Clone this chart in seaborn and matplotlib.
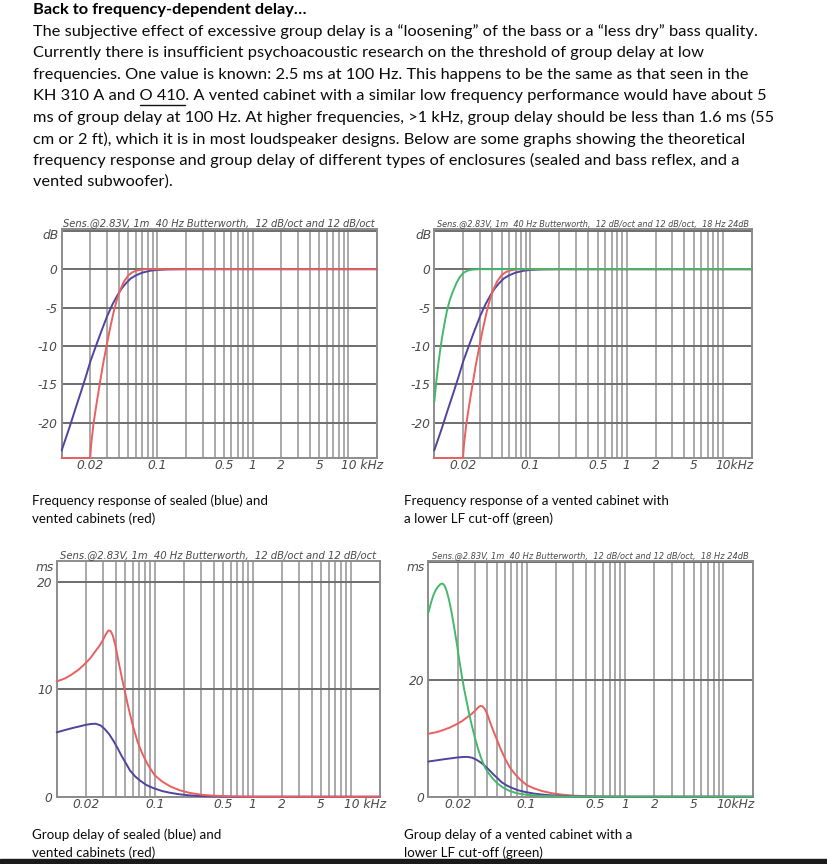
import matplotlib
matplotlib.use("Agg")
import matplotlib.pyplot as plt
import matplotlib.ticker as mticker
from matplotlib.patches import Rectangle
from matplotlib.lines import Line2D
from matplotlib.transforms import ScaledTranslation
import pandas as pd
import seaborn as sns

W, H = 827, 864

# ---------------- text ----------------
heading = "Back to frequency-dependent delay…"
paragraph = [
    "The subjective effect of excessive group delay is a “loosening” of the bass or a “less dry” bass quality.",
    "Currently there is insufficient psychoacoustic research on the threshold of group delay at low",
    "frequencies. One value is known: 2.5 ms at 100 Hz. This happens to be the same as that seen in the",
    "KH 310 A and O 410. A vented cabinet with a similar low frequency performance would have about 5",
    "ms of group delay at 100 Hz. At higher frequencies, >1 kHz, group delay should be less than 1.6 ms (55",
    "cm or 2 ft), which it is in most loudspeaker designs. Below are some graphs showing the theoretical",
    "frequency response and group delay of different types of enclosures (sealed and bass reflex, and a",
    "vented subwoofer).",
]
underlined_prefix = "KH 310 A and "
underlined_word = "O 410"

cap_fr_left = ["Frequency response of sealed (blue) and", "vented cabinets (red)"]
cap_fr_right = ["Frequency response of a vented cabinet with", "a lower LF cut-off (green)"]
cap_gd_left = ["Group delay of sealed (blue) and", "vented cabinets (red)"]
cap_gd_right = ["Group delay of a vented cabinet with a", "lower LF cut-off (green)"]

title_left = "Sens.@2.83V, 1m  40 Hz Butterworth,  12 dB/oct and 12 dB/oct"
title_right = "Sens.@2.83V, 1m  40 Hz Butterworth,  12 dB/oct and 12 dB/oct,  18 Hz 24dB"

# ---------------- axes ticks ----------------
xtick_vals = [20, 100, 500, 1000, 2000, 5000, 10000]
xtick_labels_left = ["0.02", "0.1", "0.5", "1", "2", "5", "10 kHz"]
xtick_labels_right = ["0.02", "0.1", "0.5", "1", "2", "5", "10kHz"]
grid_freqs = [20, 30, 40, 50, 60, 70, 80, 90,
              100, 200, 300, 400, 500, 600, 700, 800, 900,
              1000, 2000, 3000, 4000, 5000, 6000, 7000, 8000, 9000, 10000]

fr_yticks = [-20, -15, -10, -5, 0, 5]
fr_ylabels = ["-20", "-15", "-10", "-5", "0", ""]
gd_left_yticks = [0, 10, 20]
gd_left_ylabels = ["0", "10", "20"]
gd_right_yticks = [0, 20, 40]
gd_right_ylabels = ["0", "20", ""]

# ---------------- frequency response (dB) ----------------
fr_sealed_f = [10, 12, 14, 16, 18, 20, 23, 26, 30, 34, 38, 42, 47, 53, 60, 70, 85, 100, 130, 200, 20000]
fr_sealed_db = [-23.6, -20.7, -18.1, -15.9, -13.9, -12.0, -9.9, -8.1, -6.1, -4.6, -3.5, -2.6, -1.85,
                -1.2, -0.8, -0.45, -0.2, -0.1, -0.03, 0.0, 0.0]

fr_vented_f = [10, 19.9, 20.3, 21.5, 23, 25, 27, 29.5, 32, 35, 38, 41, 45, 50, 55, 62, 75, 20000]
fr_vented_db = [-24.6, -24.6, -23.0, -20.2, -17.8, -15.0, -12.5, -10.0, -7.8, -5.6, -3.9, -2.7,
                -1.6, -0.8, -0.4, -0.15, 0.0, 0.0]

fr_sub_f = [10, 10.5, 11, 11.5, 12, 12.8, 13.5, 14.5, 15.5, 17, 18.5, 20, 22, 25, 30, 20000]
fr_sub_db = [-17.3, -14.6, -12.4, -10.6, -9.0, -7.0, -5.5, -4.0, -3.0, -1.8, -1.0, -0.5, -0.2,
             -0.05, 0.0, 0.0]

# ---------------- group delay (ms) ----------------
gd_vented_f = [10, 12, 14, 16.5, 19, 22, 25, 27.5, 30, 32, 33.8, 35.5, 37.5, 40, 43, 46.5, 50, 54,
               60, 67, 75, 85, 100, 120, 145, 180, 230, 300, 400, 600, 1000, 20000]
gd_vented_ms = [10.75, 11.0, 11.35, 11.8, 12.3, 12.9, 13.6, 14.1, 14.7, 15.2, 15.5, 15.45, 15.0,
                14.0, 12.5, 11.0, 9.7, 8.3, 6.6, 5.1, 4.0, 3.0, 2.0, 1.4, 0.95, 0.6, 0.35, 0.18,
                0.09, 0.03, 0.0, 0.0]

gd_sealed_f = [10, 12, 14.5, 17, 19.8, 22.5, 25, 28, 31, 34.5, 38, 42, 46, 51, 56, 63, 71, 82, 97,
               120, 143, 180, 230, 300, 400, 600, 20000]
gd_sealed_ms = [6.0, 6.2, 6.4, 6.55, 6.7, 6.78, 6.8, 6.65, 6.3, 5.8, 5.2, 4.5, 3.8, 3.1, 2.45, 1.9,
                1.5, 1.1, 0.8, 0.52, 0.37, 0.22, 0.12, 0.06, 0.03, 0.0, 0.0]

gd_sub_f = [10, 10.6, 11.2, 11.9, 12.6, 13.3, 14.0, 14.7, 15.4, 16.3, 17.3, 18.3, 19.4, 20.6, 21.9,
            23.2, 24.6, 26, 27.6, 30, 32.3, 35, 38, 41.5, 45.8, 51, 57.9, 67, 79, 95, 117, 150, 202,
            300, 20000]
gd_sub_ms = [31.4, 33.0, 34.3, 35.3, 35.9, 36.3, 36.4, 36.0, 35.1, 33.5, 31.4, 29.0, 26.4, 23.5,
             20.7, 18.3, 16.2, 14.2, 12.3, 9.9, 8.0, 6.3, 4.9, 3.9, 3.0, 2.2, 1.55, 1.0, 0.6, 0.38,
             0.23, 0.12, 0.06, 0.02, 0.0]

RED = "#e9605e"
BLUE = "#4f449e"
GREEN = "#45b86c"
TICK_C = "#4a4a4a"

sns.set_theme(style="white")
plt.rcParams["font.family"] = ["DejaVu Sans"]

fig = plt.figure(figsize=(W / 100, H / 100), dpi=100)


def fx(x):
    return x / W


def fy(y):
    return 1 - y / H


def add_ax(l, t, r, b):
    return fig.add_axes([fx(l), fy(b), (r - l) / W, (b - t) / H])


ax1 = add_ax(61.7, 228.5, 376.7, 458.0)
ax2 = add_ax(434.3, 228.5, 751.7, 458.0)
ax3 = add_ax(56.7, 560.7, 380.0, 796.7)
ax4 = add_ax(428.3, 560.7, 752.7, 796.7)


def curve(ax, f, v, color):
    df = pd.DataFrame({"f": f, "v": v})
    sns.lineplot(data=df, x="f", y="v", ax=ax, color=color, lw=1.4, estimator=None,
                 sort=False, clip_on=False, zorder=4)


curve(ax1, fr_sealed_f, fr_sealed_db, BLUE)
curve(ax1, fr_vented_f, fr_vented_db, RED)
curve(ax2, fr_sealed_f, fr_sealed_db, BLUE)
curve(ax2, fr_vented_f, fr_vented_db, RED)
curve(ax2, fr_sub_f, fr_sub_db, GREEN)
curve(ax3, gd_sealed_f, gd_sealed_ms, BLUE)
curve(ax3, gd_vented_f, gd_vented_ms, RED)
curve(ax4, gd_vented_f, gd_vented_ms, RED)
curve(ax4, gd_sealed_f, gd_sealed_ms, BLUE)
curve(ax4, gd_sub_f, gd_sub_ms, GREEN)


def style(ax, ylim, yticks, ylabels, unit, title, xlabels):
    ax.set_xscale("log")
    ax.set_xlim(10, 20000)
    ax.set_ylim(*ylim)
    ax.set_xlabel("")
    ax.set_ylabel("")
    ax.xaxis.set_minor_locator(mticker.FixedLocator(grid_freqs))
    ax.xaxis.set_minor_formatter(mticker.NullFormatter())
    ax.set_xticks(xtick_vals, xlabels, fontstyle="italic")
    ax.set_yticks(yticks, ylabels, fontstyle="italic")
    ax.tick_params(which="both", length=0, labelsize=8.8, labelcolor=TICK_C)
    ax.tick_params(axis="x", pad=1)
    ax.tick_params(axis="y", pad=3)
    ax.grid(which="both", axis="x", color="#969696", lw=1.15)
    ax.grid(which="major", axis="y", color="#6e6e6e", lw=1.4)
    ax.set_axisbelow(True)
    for s in ax.spines.values():
        s.set_visible(True)
        s.set_color("#8c8c8c")
        s.set_linewidth(1.4)
    last = ax.get_xticklabels()[-1]
    last.set_ha("left")
    last.set_transform(last.get_transform() + ScaledTranslation(-7 / 100, 0, fig.dpi_scale_trans))
    ax.text(-0.01, 0.97, unit, transform=ax.transAxes, ha="right", va="center",
            fontstyle="italic", fontsize=8.8, color=TICK_C)
    return ax.set_title(title, fontsize=6.5, fontstyle="italic", color=TICK_C, pad=2)


t1 = style(ax1, (-24.6, 5.3), fr_yticks, fr_ylabels, "dB", title_left, xtick_labels_left)
t2 = style(ax2, (-24.6, 5.3), fr_yticks, fr_ylabels, "dB", title_right, xtick_labels_right)
t3 = style(ax3, (0, 22), gd_left_yticks, gd_left_ylabels, "ms", title_left, xtick_labels_left)
t4 = style(ax4, (0, 40.3), gd_right_yticks, gd_right_ylabels, "ms", title_right, xtick_labels_right)

# ---------------- document text ----------------
TFAM = ["Lato", "DejaVu Sans"]
line_y = [31.5, 53, 74.5, 96, 117.5, 139, 160.5, 182]
head = fig.text(fx(33), fy(10), heading, fontsize=11, fontweight="bold", family=TFAM,
                ha="left", va="center", color="#000000")
ptexts = [fig.text(fx(33), fy(y), s, fontsize=11, family=TFAM, ha="left", va="center",
                   color="#0a0a0a") for s, y in zip(paragraph, line_y)]

caps = []
for lines, x, ys in [(cap_fr_left, 32, (501, 519)), (cap_fr_right, 404, (501, 519)),
                     (cap_gd_left, 32, (835, 853)), (cap_gd_right, 404, (835, 853))]:
    for s, y in zip(lines, ys):
        caps.append(fig.text(fx(x), fy(y), s, fontsize=10, family=TFAM, ha="left",
                             va="center", color="#0a0a0a"))

fig.canvas.draw()
r = fig.canvas.get_renderer()


def width(t):
    return t.get_window_extent(r).width


# fit paragraph font size to the measured line width
fs = 11 * 722 / width(ptexts[0])
for t in ptexts:
    t.set_fontsize(fs)
head.set_fontsize(fs)
cfs = 10 * 237 / width(caps[0])
for t in caps:
    t.set_fontsize(cfs)
for t, target in [(t1, 314), (t2, 314), (t3, 318), (t4, 315)]:
    t.set_fontsize(t.get_fontsize() * target / width(t))

fig.canvas.draw()
# underline "O 410"
probe = fig.text(0, 0, underlined_prefix + underlined_word, fontsize=fs, family=TFAM)
probe2 = fig.text(0, 0, underlined_word, fontsize=fs, family=TFAM)
fig.canvas.draw()
wfull, wword = width(probe), width(probe2)
probe.remove()
probe2.remove()
x0 = 33 + (wfull - wword)
fig.add_artist(Line2D([fx(x0), fx(x0 + wword)], [fy(104.5), fy(104.5)],
                      transform=fig.transFigure, color="#111111", lw=1.0))

# bottom page border
fig.add_artist(Rectangle((0, 0), 1, 5.5 / H, transform=fig.transFigure,
                         color="#1b1b1b", zorder=10))

fig.savefig("out.png", dpi=100)
